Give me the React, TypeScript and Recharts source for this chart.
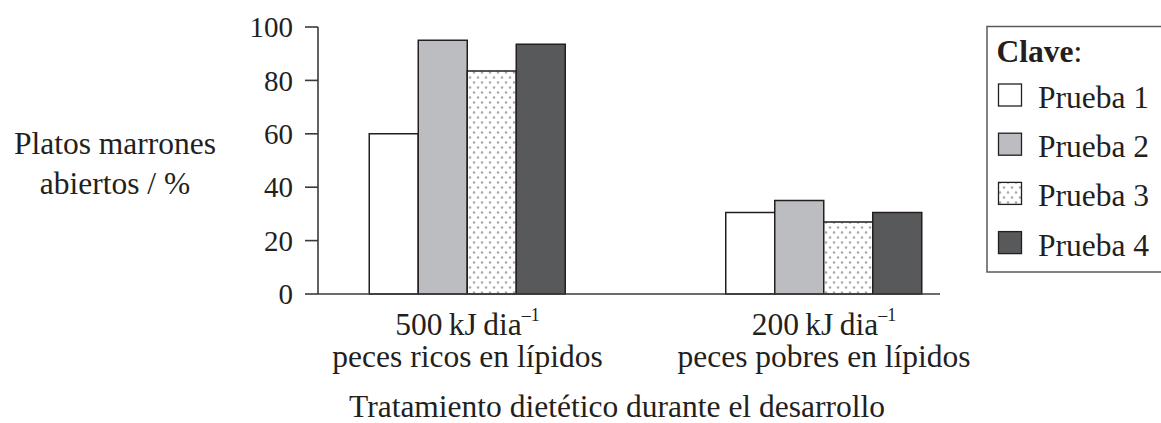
import React from 'react';
import { BarChart, Bar, XAxis, YAxis, Legend } from 'recharts';

const FONT = '"Liberation Serif", "Times New Roman", serif';
const INK = '#231f20';

const categories = ['500', '200'];
const energyLabels = ['500\u2009kJ\u2009dia', '200\u2009kJ\u2009dia'];
const energySuperscript = '\u20131';
const dietLabels = ['peces ricos en lípidos', 'peces pobres en lípidos'];

const seriesNames = ['Prueba 1', 'Prueba 2', 'Prueba 3', 'Prueba 4'];
const prueba1 = [60, 30.5];
const prueba2 = [95, 35];
const prueba3 = [83.5, 27];
const prueba4 = [93.5, 30.5];

const yTicks = [0, 20, 40, 60, 80, 100];
const yLabelLines = ['Platos marrones', 'abiertos / %'];
const xTitle = 'Tratamiento dietético durante el desarrollo';
const legendTitle = 'Clave';

const fills = ['#ffffff', '#bcbdc0', 'url(#dots)', '#58595b'];
const legendFills = ['#ffffff', '#bcbdc0', 'url(#dotsLegend)', '#58595b'];
const keys = ['p1', 'p2', 'p3', 'p4'];

const data = categories.map((c, i) => ({
  cat: c,
  p1: prueba1[i],
  p2: prueba2[i],
  p3: prueba3[i],
  p4: prueba4[i],
}));

const DotPattern = ({ id }: { id: string }) => (
  <pattern id={id} width={8} height={10} patternUnits="userSpaceOnUse">
    <rect width={8} height={10} fill="#ffffff" />
    <circle cx={2} cy={2.5} r={1.25} fill="#a7a9ac" />
    <circle cx={6} cy={7.5} r={1.25} fill="#a7a9ac" />
  </pattern>
);

const XTick = (props: any) => {
  const { x, y, payload } = props;
  const i = categories.indexOf(String(payload.value));
  return (
    <g>
      <text x={x} y={y + 41} textAnchor="middle" fontFamily={FONT} fontSize={31.5} fill={INK}>
        {energyLabels[i]}
        <tspan fontSize={18} dy={-14}>{energySuperscript}</tspan>
      </text>
      <text x={x} y={y + 73} textAnchor="middle" fontFamily={FONT} fontSize={31.5} fill={INK}>
        {dietLabels[i]}
      </text>
    </g>
  );
};

const YLabel = () => (
  <g>
    <defs>
      <DotPattern id="dots" />
    </defs>
    {yLabelLines.map((t, i) => (
      <text key={t} x={115} y={154 + i * 40} textAnchor="middle" fontFamily={FONT} fontSize={31.5} fill={INK}>
        {t}
      </text>
    ))}
  </g>
);

const XTitle = () => (
  <text x={617} y={417} textAnchor="middle" fontFamily={FONT} fontSize={31.5} fill={INK}>
    {xTitle}
  </text>
);

const LegendBox = () => (
  <svg width={200} height={250} style={{ display: 'block', overflow: 'visible' }}>
    <defs>
      <DotPattern id="dotsLegend" />
    </defs>
    <path d="M200 1.5 H1 V247 H200" fill="none" stroke="#58595b" strokeWidth={1.5} />
    <text x={10.5} y={37} fontFamily={FONT} fontSize={31.5} fill={INK}>
      <tspan fontWeight="bold">{legendTitle}</tspan>:
    </text>
    {seriesNames.map((n, i) => {
      const base = 83 + i * 49.2;
      return (
        <g key={n}>
          <rect x={12.5} y={base - 24} width={23} height={22} fill={legendFills[i]} stroke={INK} strokeWidth={1.3} />
          <text x={52} y={base} fontFamily={FONT} fontSize={31.5} fill={INK}>
            {n}
          </text>
        </g>
      );
    })}
  </svg>
);

export default function App() {
  return (
    <div style={{ position: 'absolute', left: 0, top: 0, width: 1161, height: 423, overflow: 'hidden', background: '#fff' }}>
      <BarChart
        width={1161}
        height={423}
        data={data}
        margin={{ top: 27, right: 221, bottom: 0, left: 258 }}
        barGap={0}
        barSize={49}
      >
        <XAxis
          dataKey="cat"
          height={129}
          tickLine={false}
          tickSize={0}
          tickMargin={0}
          padding={{ left: -28.75, right: -62.25 }}
          axisLine={{ stroke: '#3a3a3c', strokeWidth: 1.6 }}
          tick={<XTick />}
          interval={0}
          label={{ content: () => <XTitle /> }}
        />
        <YAxis
          width={60}
          domain={[0, 100]}
          ticks={yTicks}
          interval={0}
          tickSize={13}
          tickMargin={12}
          axisLine={{ stroke: '#3a3a3c', strokeWidth: 1.6 }}
          tickLine={{ stroke: '#3a3a3c', strokeWidth: 1.6 }}
          tick={{ fontFamily: FONT, fontSize: 29, fill: INK }}
          label={{ content: () => <YLabel /> }}
        />
        <Legend
          layout="horizontal"
          verticalAlign="middle"
          align="center"
          wrapperStyle={{ position: 'absolute', left: 986, top: 25, width: 200, height: 250 }}
          content={() => <LegendBox />}
        />
        {keys.map((k, i) => (
          <Bar
            key={k}
            dataKey={k}
            name={seriesNames[i]}
            fill={fills[i]}
            stroke={INK}
            strokeWidth={1.5}
            isAnimationActive={false}
          />
        ))}
      </BarChart>
    </div>
  );
}
